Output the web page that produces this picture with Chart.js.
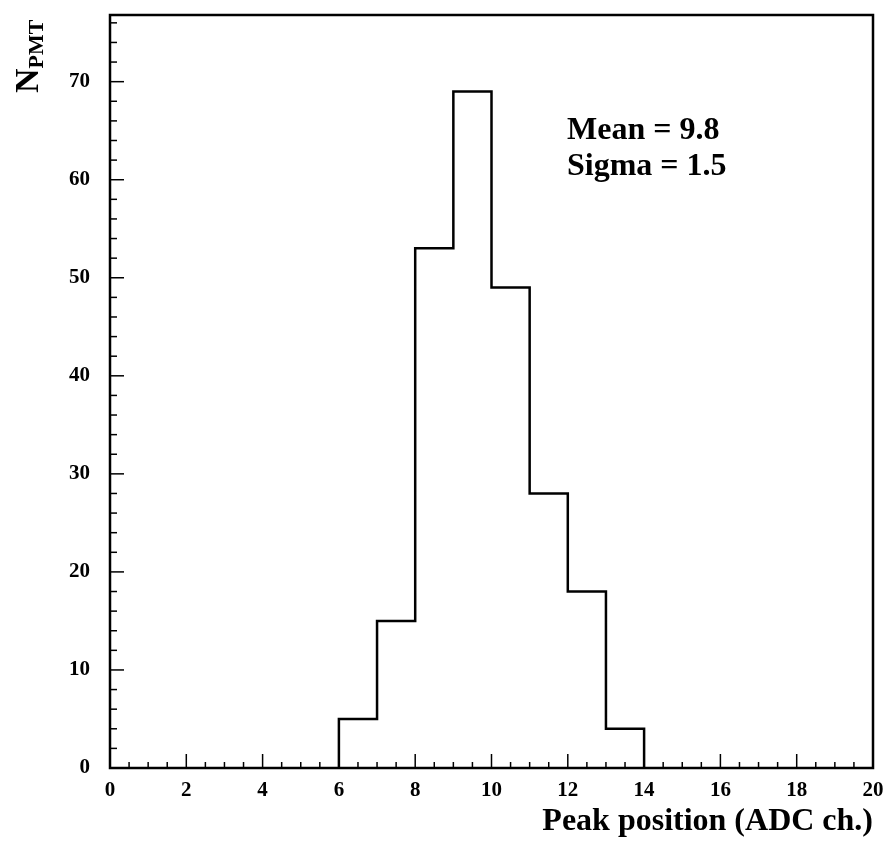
<!DOCTYPE html>
<html>
<head>
<meta charset="utf-8">
<script src="https://cdn.jsdelivr.net/npm/chart.js@4.4.0/dist/chart.umd.min.js"></script>
<style>
  html, body { margin: 0; padding: 0; background: #fff; }
  #wrap { width: 891px; height: 843px; }
</style>
</head>
<body>
<div id="wrap"><canvas id="myChart" width="891" height="843"></canvas></div>
<script>
// histogram bins (ADC ch.) and PMT counts
var binEdges = [6, 7, 8, 9, 10, 11, 12, 13, 14];
var counts = [5, 15, 53, 69, 49, 28, 18, 4];
var xTicks = [0, 2, 4, 6, 8, 10, 12, 14, 16, 18, 20];
var yTicks = [0, 10, 20, 30, 40, 50, 60, 70];
var statLines = ['Mean = 9.8', 'Sigma = 1.5'];

// outline of the histogram as step points
var stepPoints = [{ x: binEdges[0], y: 0 }];
for (var i = 0; i < counts.length; i++) {
  stepPoints.push({ x: binEdges[i + 1], y: counts[i] });
}
stepPoints.push({ x: binEdges[binEdges.length - 1], y: 0 });

var serif = '"Liberation Serif", "Times New Roman", serif';

// frame, inward ticks, titles and the stats box
var decor = {
  id: 'decor',
  afterDraw: function (chart) {
    var ctx = chart.ctx;
    var a = chart.chartArea;
    var xs = chart.scales.x, ys = chart.scales.y;
    ctx.save();
    ctx.strokeStyle = '#000';
    ctx.lineWidth = 1.5;
    // y ticks, major every 10, minor every 2
    for (var v = 0; v <= ys.max; v += 2) {
      var py = ys.getPixelForValue(v);
      var len = (v % 10 === 0) ? 14 : 7;
      ctx.beginPath();
      ctx.moveTo(a.left, py);
      ctx.lineTo(a.left + len, py);
      ctx.stroke();
    }
    // x ticks, major every 2, minor every 0.5
    for (var k = 0; k <= 40; k++) {
      var xv = k * 0.5;
      var px = xs.getPixelForValue(xv);
      var l2 = (k % 4 === 0) ? 14 : 6;
      ctx.beginPath();
      ctx.moveTo(px, a.bottom);
      ctx.lineTo(px, a.bottom - l2);
      ctx.stroke();
    }
    // frame
    ctx.lineWidth = 2.5;
    ctx.strokeRect(a.left, a.top, a.right - a.left, a.bottom - a.top);

    ctx.fillStyle = '#000';
    // x title
    ctx.font = 'bold 32px ' + serif;
    ctx.textAlign = 'right';
    ctx.textBaseline = 'alphabetic';
    ctx.fillText('Peak position (ADC ch.)', a.right, 830);

    // y title N_PMT, rotated
    ctx.save();
    ctx.translate(38, 93);
    ctx.rotate(-Math.PI / 2);
    ctx.textAlign = 'left';
    ctx.font = 'bold 34px ' + serif;
    ctx.fillText('N', 0, 0);
    var nw = ctx.measureText('N').width;
    ctx.font = 'bold 22px ' + serif;
    ctx.fillText('PMT', nw, 5);
    ctx.restore();

    // stats
    ctx.font = 'bold 32px ' + serif;
    ctx.textAlign = 'left';
    statLines.forEach(function (s, i) {
      ctx.fillText(s, 567, 139 + i * 36);
    });
    ctx.restore();
  }
};

const ctx = document.getElementById('myChart');
let chart = new Chart(ctx, {
  type: 'line',
  data: {
    datasets: [{
      data: stepPoints,
      stepped: 'after',
      borderColor: '#000',
      borderWidth: 2.5,
      pointRadius: 0,
      fill: false
    }]
  },
  options: {
    responsive: false,
    animation: false,
    layout: { padding: { top: 15, right: 18, left: 0, bottom: 0 } },
    plugins: { legend: { display: false }, tooltip: { enabled: false } },
    scales: {
      x: {
        type: 'linear',
        min: 0,
        max: 20,
        afterBuildTicks: function (s) { s.ticks = xTicks.map(function (v) { return { value: v }; }); },
        afterFit: function (s) { s.height = 75; s.paddingLeft = 0; s.paddingRight = 0; },
        grid: { display: false, drawTicks: false },
        border: { display: false },
        ticks: { color: '#000', padding: 10, maxRotation: 0, font: { family: serif, weight: 'bold', size: 21 } }
      },
      y: {
        type: 'linear',
        min: 0,
        max: 76.8,
        afterBuildTicks: function (s) { s.ticks = yTicks.map(function (v) { return { value: v }; }); },
        afterFit: function (s) { s.width = 110; s.paddingTop = 0; s.paddingBottom = 0; },
        grid: { display: false, drawTicks: false },
        border: { display: false },
        ticks: { color: '#000', padding: 20, font: { family: serif, weight: 'bold', size: 21 } }
      }
    }
  },
  plugins: [decor]
});
</script>
</body>
</html>
